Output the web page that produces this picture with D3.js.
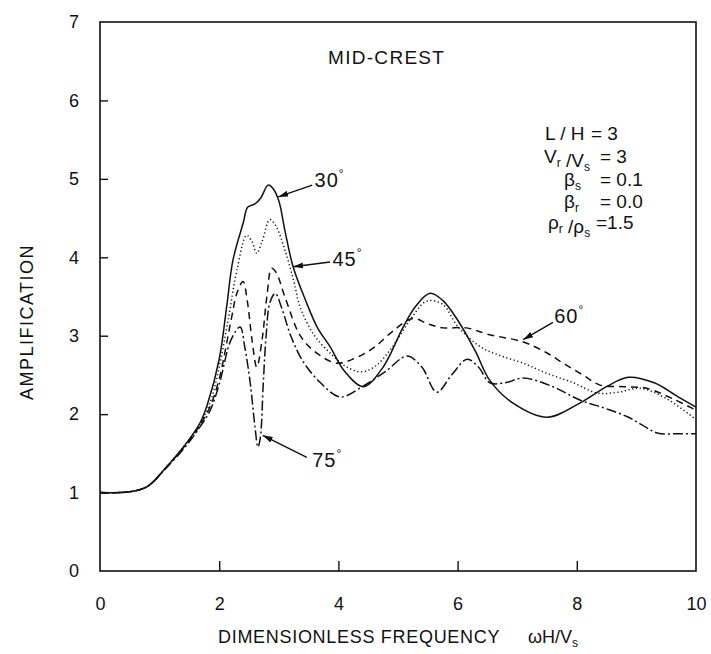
<!DOCTYPE html>
<html>
<head>
<meta charset="utf-8">
<script src="https://cdn.jsdelivr.net/npm/d3@7"></script>
<style>
  body { margin: 0; background: #fff; }
  svg text { font-family: "Liberation Sans", Arial, sans-serif; fill: #111; }
</style>
</head>
<body>
<svg></svg>
<script>
// Werte (Frequenz ωH/Vs -> Amplifikation)
const freq30 = [0, 0.5, 0.8, 1.12, 1.45, 1.68, 1.8, 2.0, 2.13, 2.23, 2.4, 2.48, 2.6, 2.7, 2.82, 2.9, 3.0, 3.1, 3.24, 3.45, 3.65, 3.86, 4.1, 4.42, 4.75, 5.08, 5.3, 5.54, 5.75, 6.0, 6.3, 6.54, 6.93, 7.5, 8.05, 8.5, 8.86, 9.3, 9.7, 10];
const amp30 = [1.0, 1.01, 1.08, 1.33, 1.63, 1.89, 2.12, 2.7, 3.4, 3.96, 4.43, 4.64, 4.68, 4.76, 4.92, 4.88, 4.72, 4.35, 3.88, 3.45, 3.1, 2.86, 2.55, 2.35, 2.6, 3.1, 3.38, 3.54, 3.45, 3.2, 2.8, 2.43, 2.14, 1.96, 2.14, 2.35, 2.47, 2.4, 2.22, 2.09];

const freq45 = [0, 0.5, 0.8, 1.12, 1.45, 1.68, 1.85, 2.0, 2.15, 2.3, 2.46, 2.55, 2.63, 2.72, 2.85, 2.95, 3.1, 3.25, 3.36, 3.6, 3.9, 4.1, 4.36, 4.6, 4.9, 5.2, 5.48, 5.75, 6.0, 6.38, 6.7, 7.1, 7.5, 7.94, 8.34, 8.7, 9.06, 9.5, 10];
const amp45 = [1.0, 1.01, 1.08, 1.33, 1.63, 1.88, 2.15, 2.6, 3.2, 3.85, 4.28, 4.2, 4.05, 4.2, 4.48, 4.4, 4.1, 3.7, 3.36, 3.0, 2.75, 2.62, 2.54, 2.6, 2.85, 3.2, 3.44, 3.4, 3.12, 2.86, 2.75, 2.65, 2.52, 2.4, 2.27, 2.28, 2.33, 2.2, 1.93];

const freq60 = [0, 0.5, 0.8, 1.12, 1.45, 1.68, 1.85, 2.0, 2.2, 2.3, 2.4, 2.47, 2.55, 2.63, 2.72, 2.8, 2.88, 2.96, 3.1, 3.36, 3.6, 3.97, 4.3, 4.6, 4.9, 5.25, 5.5, 5.76, 6.15, 6.5, 7.1, 7.5, 7.77, 8.1, 8.39, 8.8, 9.17, 9.6, 10];
const amp60 = [1.0, 1.01, 1.08, 1.33, 1.62, 1.86, 2.1, 2.45, 3.2, 3.55, 3.69, 3.45, 2.95, 2.6, 2.95, 3.5, 3.86, 3.8, 3.5, 3.0, 2.8, 2.65, 2.72, 2.85, 3.05, 3.22, 3.15, 3.1, 3.1, 3.02, 2.92, 2.78, 2.65, 2.5, 2.37, 2.35, 2.33, 2.2, 2.05];

const freq75 = [0, 0.5, 0.8, 1.12, 1.45, 1.68, 1.85, 2.0, 2.2, 2.35, 2.43, 2.52, 2.6, 2.65, 2.69, 2.74, 2.79, 2.85, 2.94, 3.05, 3.2, 3.4, 3.7, 4.03, 4.4, 4.8, 5.15, 5.4, 5.65, 5.9, 6.16, 6.35, 6.54, 6.8, 7.1, 7.6, 8.05, 8.45, 8.84, 9.1, 9.35, 9.7, 10];
const amp75 = [1.0, 1.01, 1.08, 1.32, 1.6, 1.84, 2.05, 2.38, 2.95, 3.11, 2.85, 2.4, 1.84, 1.58, 1.7, 2.4, 3.03, 3.42, 3.54, 3.35, 3.0, 2.68, 2.4, 2.22, 2.35, 2.55, 2.74, 2.6, 2.28, 2.5, 2.7, 2.6, 2.4, 2.4, 2.46, 2.35, 2.18, 2.08, 1.97, 1.86, 1.76, 1.75, 1.75];

const xTicks = [0, 2, 4, 6, 8, 10];
const yTicks = [0, 1, 2, 3, 4, 5, 6, 7];

// Pfeil-Beschriftungen: Winkel, Spitze, Ende und Textposition in Datenkoordinaten
const angleLabels = ["30", "45", "60", "75"];
const arrowTip = [[2.99, 4.77], [3.24, 3.88], [7.1, 2.95], [2.73, 1.73]];
const arrowTail = [[3.56, 4.92], [3.86, 3.94], [7.6, 3.17], [3.47, 1.45]];
const labelPos = [[3.6, 4.9], [3.9, 3.89], [7.62, 3.16], [3.56, 1.33]];

const width = 711;
const height = 654;
const margin = { top: 22, right: 15, bottom: 83, left: 100 };

const svg = d3.select("svg").attr("width", width).attr("height", height);

const scaleX = d3.scaleLinear().domain([0, 10]).range([margin.left, width - margin.right]);
const scaleY = d3.scaleLinear().domain([0, 7]).range([height - margin.bottom, margin.top]);

// Rahmen
svg.append("rect")
  .attr("x", scaleX(0))
  .attr("y", scaleY(7))
  .attr("width", scaleX(10) - scaleX(0))
  .attr("height", scaleY(0) - scaleY(7))
  .attr("fill", "none")
  .attr("stroke", "#111")
  .attr("stroke-width", 1.6);

// Achsen mit Ticks nach innen
const xAxis = svg.append("g")
  .attr("transform", "translate(0," + scaleY(0) + ")")
  .call(d3.axisBottom(scaleX).tickValues(xTicks).tickSizeInner(-10).tickSizeOuter(0).tickPadding(26).tickFormat(d3.format("d")));

const yAxis = svg.append("g")
  .attr("transform", "translate(" + scaleX(0) + ",0)")
  .call(d3.axisLeft(scaleY).tickValues(yTicks).tickSizeInner(-8).tickSizeOuter(0).tickPadding(21).tickFormat(d3.format("d")));

[xAxis, yAxis].forEach((ax) => {
  ax.select(".domain").remove();
  ax.selectAll(".tick line").attr("stroke", "#111").attr("stroke-width", 1.4);
  ax.selectAll(".tick text")
    .style("font-family", "'Liberation Sans', Arial, sans-serif")
    .style("font-size", "18px")
    .attr("fill", "#111");
});
xAxis.selectAll(".tick").filter((d) => d == 0 || d == 10).select("line").remove();
yAxis.selectAll(".tick").filter((d) => d == 0 || d == 7).select("line").remove();

// Kurven
const series = [
  { xs: freq30, ys: amp30, dash: null },
  { xs: freq45, ys: amp45, dash: "1.2,2.6" },
  { xs: freq60, ys: amp60, dash: "7,5" },
  { xs: freq75, ys: amp75, dash: "10,3,2,3" },
];

const line = d3.line()
  .x((d) => scaleX(d[0]))
  .y((d) => scaleY(d[1]))
  .curve(d3.curveCatmullRom.alpha(0.5));

svg.append("g")
  .selectAll("path")
  .data(series)
  .enter()
  .append("path")
  .attr("d", (s) => line(s.xs.map((x, i) => [x, s.ys[i]])))
  .attr("fill", "none")
  .attr("stroke", "#111")
  .attr("stroke-width", 1.5)
  .attr("stroke-dasharray", (s) => s.dash);

// Pfeilspitze
svg.append("defs")
  .append("marker")
  .attr("id", "arrow")
  .attr("viewBox", "0 0 10 6")
  .attr("refX", 10)
  .attr("refY", 3)
  .attr("markerWidth", 10)
  .attr("markerHeight", 6)
  .attr("markerUnits", "userSpaceOnUse")
  .attr("orient", "auto")
  .append("path")
  .attr("d", "M0,0 L10,3 L0,6 Z")
  .attr("fill", "#111");

const arrows = svg.append("g");
angleLabels.forEach((lab, i) => {
  arrows.append("line")
    .attr("x1", scaleX(arrowTail[i][0]))
    .attr("y1", scaleY(arrowTail[i][1]))
    .attr("x2", scaleX(arrowTip[i][0]))
    .attr("y2", scaleY(arrowTip[i][1]))
    .attr("stroke", "#111")
    .attr("stroke-width", 1.4)
    .attr("marker-end", "url(#arrow)");

  const t = arrows.append("text")
    .attr("x", scaleX(labelPos[i][0]))
    .attr("y", scaleY(labelPos[i][1]))
    .style("font-size", "20px")
    .style("letter-spacing", "1px")
    .text(lab);
  t.append("tspan").attr("dy", -9).style("font-size", "12px").text("°");
});

// Titel
svg.append("text")
  .attr("x", 328)
  .attr("y", 64)
  .style("font-size", "19px")
  .style("letter-spacing", "1.3px")
  .text("MID-CREST");

// Parameter-Block
const params = svg.append("g").style("font-size", "19px");

function addRow(x, y, parts) {
  const t = params.append("text").attr("x", x).attr("y", y);
  parts.forEach((p) => {
    if (p.sub) {
      t.append("tspan").attr("dy", 4).style("font-size", "12px").text(p.sub);
      t.append("tspan").attr("dy", -4).text("");
    } else {
      t.append("tspan").text(p.t);
    }
  });
}

addRow(545, 140, [{ t: "L / H" }]);
addRow(591, 140, [{ t: "=  3" }]);
addRow(544, 163, [{ t: "V" }, { sub: "r" }, { t: " /V" }, { sub: "s" }]);
addRow(600, 163, [{ t: "=  3" }]);
addRow(564, 186, [{ t: "β" }, { sub: "s" }]);
addRow(600, 186, [{ t: "= 0.1" }]);
addRow(564, 208, [{ t: "β" }, { sub: "r" }]);
addRow(600, 208, [{ t: "= 0.0" }]);
addRow(548, 229, [{ t: "ρ" }, { sub: "r" }, { t: " /ρ" }, { sub: "s" }]);
addRow(596, 229, [{ t: "=1.5" }]);

// Achsenbeschriftungen
const xLabel = svg.append("text")
  .attr("x", 218)
  .attr("y", 643)
  .style("font-size", "18px")
  .style("letter-spacing", "0.7px");
xLabel.append("tspan").text("DIMENSIONLESS FREQUENCY");
xLabel.append("tspan").attr("x", 528).style("letter-spacing", "0px").text("ωH/V");
xLabel.append("tspan").attr("dy", 4).style("font-size", "12px").text("s");

svg.append("text")
  .attr("text-anchor", "middle")
  .attr("transform", "translate(33,322) rotate(-90)")
  .style("font-size", "18px")
  .style("letter-spacing", "1.5px")
  .text("AMPLIFICATION");
</script>
</body>
</html>
